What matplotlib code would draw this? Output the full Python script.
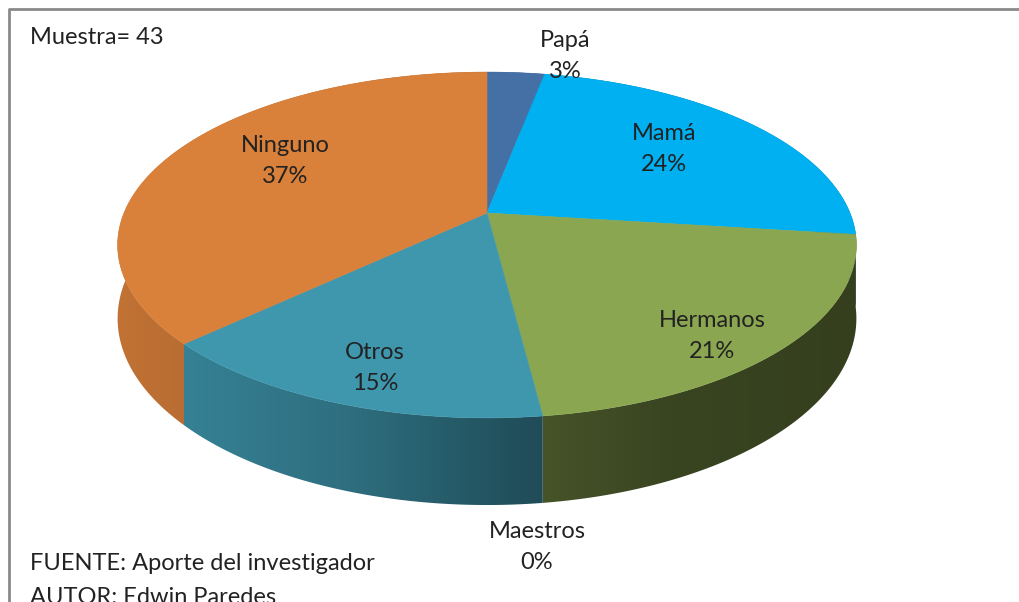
import numpy as np
import matplotlib
matplotlib.use("Agg")
import matplotlib.pyplot as plt
from matplotlib.colors import to_rgb
from matplotlib.patches import Polygon

plt.rcParams['font.family'] = ['Lato', 'DejaVu Sans']

# ---------- data ----------
labels = ["Papá", "Mamá", "Hermanos", "Maestros", "Otros", "Ninguno"]
percent = [3, 24, 21, 0, 15, 37]
colors = ["#4470A6", "#00B0F0", "#8BA650", "#7F4F9F", "#3F97AE", "#D9803B"]
muestra = 43

# label anchor (pixel) positions, Excel-style data labels
label_pos = [(565, 56), (664, 149), (712, 336), (537, 547), (375, 368), (285, 161)]

# ---------- fake 3D projection (pixel space) ----------
CX, CY = 487, 213      # projected centre of the top face
A, B = 363, 167        # radii
K = 0.185              # perspective strength
D = 71                 # depth of the pie


def proj(theta, r=1.0, h=0.0):
    th = np.radians(theta)
    u = r * np.sin(th)
    v = -r * np.cos(th)
    s = 1.0 / (1.0 - K * v)
    return CX + A * u * s, CY + (B * v + D * h) * s


def shade(x):
    # side wall darkens from left to right
    t = (x - 117) / 739.0
    return np.interp(t, [0, 0.1, 0.315, 0.55, 0.75, 1.0],
                     [0.89, 0.85, 0.73, 0.52, 0.41, 0.38])


fig = plt.figure(figsize=(10.19, 6.02), dpi=100)
ax = fig.add_axes([0, 0, 1, 1])
ax.set_xlim(0, 1019)
ax.set_ylim(602, 0)
ax.axis("off")

# frame (only top and left visible in the crop)
ax.plot([9, 9, 1019], [602, 9, 9], color="#8a8a8a", lw=2, solid_capstyle="butt")

fracs = np.array(percent, dtype=float) / sum(percent)
bounds = np.concatenate([[0], np.cumsum(fracs)]) * 360.0

# ---------- side walls (gradient clipped to wall shape) ----------
for i, c in enumerate(colors):
    a0, a1 = bounds[i], bounds[i + 1]
    if a1 - a0 <= 0:
        continue
    th = np.linspace(a0, a1, 200)
    xt, yt = proj(th)
    xb, yb = proj(th[::-1], h=1)
    xy = np.column_stack([np.concatenate([xt, xb]), np.concatenate([yt, yb])])
    poly = Polygon(xy, closed=True, facecolor="none", edgecolor="none")
    ax.add_patch(poly)
    x_min, x_max = xy[:, 0].min() - 1, xy[:, 0].max() + 1
    y_min, y_max = xy[:, 1].min() - 1, xy[:, 1].max() + 1
    gx = np.linspace(x_min, x_max, 400)
    grad = np.clip(np.outer(shade(gx), to_rgb(c)), 0, 1)[None, :, :]
    im = ax.imshow(grad, extent=[x_min, x_max, y_max, y_min], aspect="auto",
                   interpolation="bilinear", zorder=1)
    im.set_clip_path(poly)

ax.set_xlim(0, 1019)
ax.set_ylim(602, 0)

# ---------- top faces ----------
for i, c in enumerate(colors):
    a0, a1 = bounds[i], bounds[i + 1]
    if a1 - a0 <= 0:
        continue
    th = np.linspace(a0, a1, 200)
    xs, ys = proj(th)
    ax.fill(np.concatenate([[CX], xs]), np.concatenate([[CY], ys]),
            color=c, lw=0.4, edgecolor=c, zorder=2)

# ---------- labels ----------
for lab, p, (lx, ly) in zip(labels, percent, label_pos):
    ax.text(lx, ly, f"{lab}\n{p}%", ha="center", va="center", fontsize=17,
            color="#222222", linespacing=1.6, zorder=3)

ax.text(30, 38, f"Muestra= {muestra}", ha="left", va="center", fontsize=17,
        color="#222222")
ax.text(30, 564, "FUENTE: Aporte del investigador", ha="left", va="center",
        fontsize=17, color="#222222")
ax.text(30, 597, "AUTOR: Edwin Paredes", ha="left", va="center",
        fontsize=17, color="#222222")

fig.savefig("out.png", dpi=100, facecolor="white")
